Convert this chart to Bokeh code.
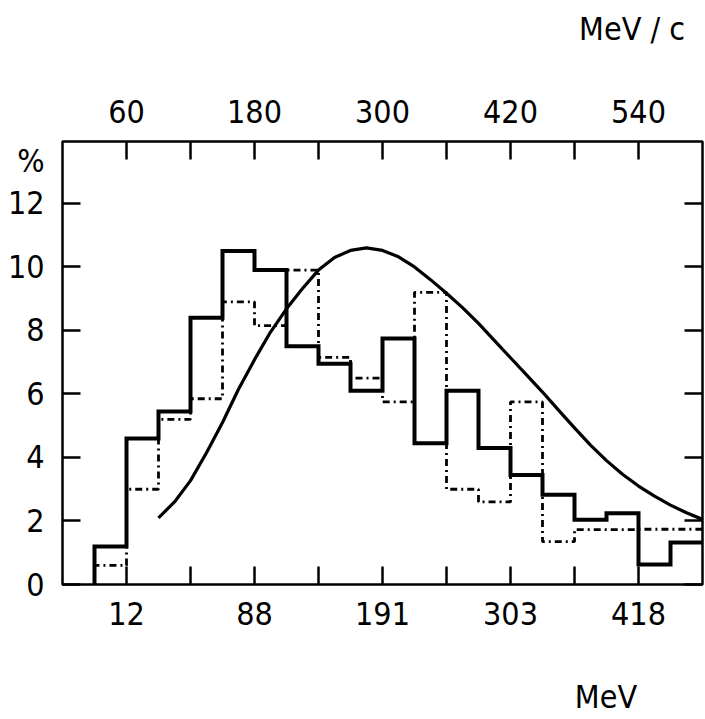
from bokeh.plotting import figure
from bokeh.models import Range1d, LinearAxis, FixedTicker
from bokeh.embed import file_html
from bokeh.resources import INLINE

# ---- data ----
bin_edges = [30, 60, 90, 120, 150, 180, 210, 240, 270, 300, 330, 360, 390, 420,
             450, 480, 510, 540, 570, 600]
solid_pct = [1.2, 4.6, 5.45, 8.4, 10.5, 9.9, 7.5, 6.95, 6.1, 7.75, 4.45, 6.1,
             4.3, 3.45, 2.83, 2.04, 2.24, 0.63, 1.32]
dashed_pct = [0.6, 3.0, 5.2, 5.85, 8.9, 8.15, 9.9, 7.15, 6.5, 5.75, 9.2, 3.0,
              2.6, 5.75, 1.35, 1.73, 1.73, 1.74, 1.74]
curve_p = [90, 105, 120, 135, 150, 165, 180, 195, 210, 225, 240, 255, 270, 285,
           300, 315, 330, 345, 360, 375, 390, 405, 420, 435, 450, 465, 480, 495,
           510, 525, 540, 555, 570, 585, 600]
curve_pct = [2.1, 2.6, 3.27, 4.15, 5.1, 6.15, 7.08, 7.95, 8.68, 9.32, 9.9,
             10.3, 10.52, 10.6, 10.52, 10.32, 10.0, 9.6, 9.17, 8.72, 8.22,
             7.68, 7.14, 6.6, 6.06, 5.49, 4.93, 4.39, 3.9, 3.47, 3.1, 2.78,
             2.5, 2.26, 2.05]
labelled_p = [60, 180, 300, 420, 540]
unlabelled_p = [120, 240, 360, 480]
momentum_labels = {60: "60", 180: "180", 300: "300", 420: "420", 540: "540"}
energy_labels = {60: "12", 180: "88", 300: "191", 420: "303", 540: "418"}
pct_ticks = [0, 2, 4, 6, 8, 10, 12]
pct_labels = {0: "0", 2: "2", 4: "4", 6: "6", 8: "8", 10: "10", 12: "12"}
pct_unit_pos = 13.35
pct_unit = "%"
momentum_unit_pos = 534
momentum_unit = "MeV / c"
energy_unit_pos = 509.5
energy_unit = "MeV"

FONT = "DejaVu Sans Condensed, Liberation Sans, sans-serif"
FS = "32px"

W, H = 704, 718
p = figure(width=W, height=H, output_backend="svg", toolbar_location=None,
           x_range=Range1d(0, 600), y_range=Range1d(0, 13.95),
           x_axis_location=None, y_axis_location=None,
           min_border_left=62, min_border_right=2,
           min_border_top=141, min_border_bottom=133)
p.grid.grid_line_color = None
p.outline_line_color = "black"
p.outline_line_width = 2.5
p.background_fill_color = "white"
p.border_fill_color = "white"


def style(ax):
    ax.axis_line_color = None
    ax.major_tick_in = 18
    ax.major_tick_out = 0
    ax.major_tick_line_width = 2.5
    ax.minor_tick_in = 18
    ax.minor_tick_out = 0
    ax.minor_tick_line_width = 2.5
    ax.major_label_text_font = FONT
    ax.major_label_text_font_size = FS
    ax.major_label_text_color = "black"


def unit_axis(pos, text, standoff):
    ax = LinearAxis(ticker=FixedTicker(ticks=[pos], minor_ticks=[]),
                    major_label_overrides={pos: text})
    style(ax)
    ax.major_tick_in = 0
    ax.major_tick_line_color = None
    ax.major_label_standoff = standoff
    return ax


bottom = LinearAxis(ticker=FixedTicker(ticks=labelled_p, minor_ticks=unlabelled_p),
                    major_label_overrides=energy_labels)
style(bottom)
bottom.major_label_standoff = 17
p.add_layout(bottom, "below")
p.add_layout(unit_axis(energy_unit_pos, energy_unit, 50), "below")

top = LinearAxis(ticker=FixedTicker(ticks=labelled_p, minor_ticks=unlabelled_p),
                 major_label_overrides=momentum_labels)
style(top)
top.major_label_standoff = 19
p.add_layout(top, "above")
p.add_layout(unit_axis(momentum_unit_pos, momentum_unit, 49), "above")

# left: numbers + "%" as labels; tick marks drawn as minor ticks
left_labels = dict(pct_labels)
left_labels[pct_unit_pos] = pct_unit
left = LinearAxis(ticker=FixedTicker(ticks=pct_ticks + [pct_unit_pos],
                                     minor_ticks=pct_ticks),
                  major_label_overrides=left_labels)
style(left)
left.major_tick_in = 0
left.major_tick_line_color = None
left.major_label_standoff = 18
p.add_layout(left, "left")

right = LinearAxis(ticker=FixedTicker(ticks=[], minor_ticks=pct_ticks))
style(right)
p.add_layout(right, "right")

# histograms and curve
sx = [bin_edges[0]] + bin_edges
sy = [0] + solid_pct + [solid_pct[-1]]
p.step(sx, sy, mode="after", line_color="black", line_width=4,
       line_join="miter")
dx = [bin_edges[0]] + bin_edges
dy = [0] + dashed_pct + [dashed_pct[-1]]
p.step(dx, dy, mode="after", line_color="black", line_width=2.8,
       line_dash="7 4 2 4")
p.line(curve_p, curve_pct, line_color="black", line_width=3.2,
       line_join="round")

open("out.html", "w").write(file_html(p, INLINE))
